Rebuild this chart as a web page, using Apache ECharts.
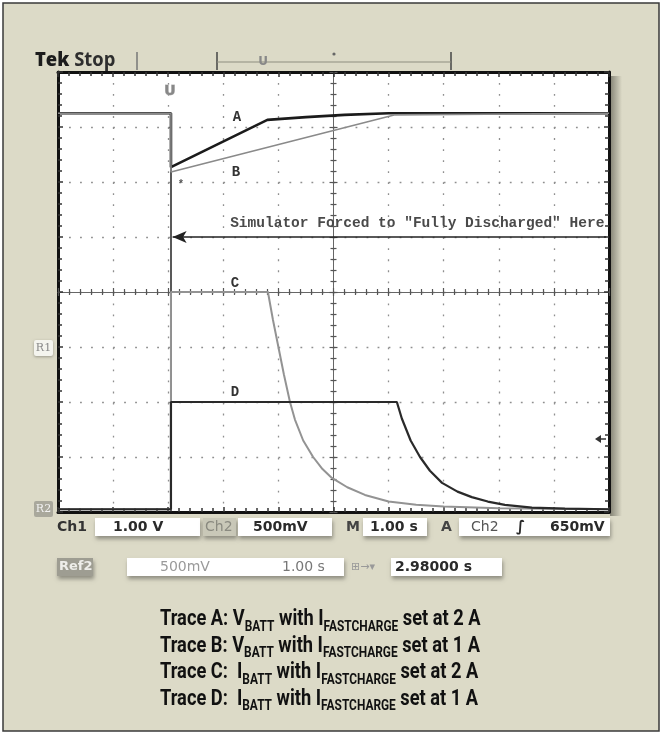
<!DOCTYPE html>
<html>
<head>
<meta charset="utf-8">
<script src="https://cdn.jsdelivr.net/npm/echarts@6/dist/echarts.min.js"></script>
<style>
  html, body { margin: 0; padding: 0; background: #fff; }
  #scope { width: 664px; height: 734px; }
</style>
</head>
<body>
<div id="scope"></div>
<script>
/* -------------------------------------------------------------------------- */
/*                 Scope capture: charger response after discharge            */
/* -------------------------------------------------------------------------- */

// time in s (M 1.00 s/div), level in screen divisions above the bottom graticule
const timeA = [0, 2.05, 2.05, 3.8, 4.5, 5.2, 6.0, 10];
const levelA = [7.25, 7.25, 6.27, 7.13, 7.18, 7.22, 7.25, 7.25];

const timeB = [0, 2.05, 2.05, 6.1, 10];
const levelB = [7.25, 7.25, 6.18, 7.22, 7.25];

const timeC = [0, 2.05, 2.05, 3.81, 3.9, 4.0, 4.1, 4.21, 4.3, 4.45, 4.63, 4.8, 4.97, 5.25, 5.57, 6.0, 6.5, 7.0, 8.0, 10];
const levelC = [0.05, 0.05, 4.0, 4.0, 3.5, 3.0, 2.5, 2.0, 1.68, 1.3, 1.0, 0.78, 0.62, 0.45, 0.31, 0.19, 0.13, 0.1, 0.07, 0.05];

const timeD = [0, 2.05, 2.05, 6.15, 6.24, 6.4, 6.57, 6.75, 6.97, 7.25, 7.51, 7.8, 8.11, 8.6, 9.2, 10];
const levelD = [0.05, 0.05, 2.0, 2.0, 1.7, 1.3, 1.0, 0.75, 0.53, 0.37, 0.27, 0.19, 0.13, 0.08, 0.06, 0.05];

const traceNames = ['A', 'B', 'C', 'D'];
const traceLabelAt = [[3.25, 7.18], [3.23, 6.18], [3.21, 4.16], [3.21, 2.18]];

const forcedTime = 2.05;
const forcedLevel = 5;
const forcedNote = 'Simulator Forced to "Fully Discharged" Here';
const forcedNoteAt = [6.52, 5.25];

const readoutRow1 = ['Ch1', '1.00 V', 'Ch2', '500mV', 'M', '1.00 s', 'A', 'Ch2', '\u222B', '650mV'];
const readoutRow2 = ['Ref2', '500mV', '1.00 s', '2.98000 s'];

const captionLines = [
  ['Trace A: V', 'BATT', ' with I', 'FASTCHARGE', ' set at 2 A'],
  ['Trace B: V', 'BATT', ' with I', 'FASTCHARGE', ' set at 1 A'],
  ['Trace C:  I', 'BATT', ' with I', 'FASTCHARGE', ' set at 2 A'],
  ['Trace D:  I', 'BATT', ' with I', 'FASTCHARGE', ' set at 1 A']
];

const zip = (t, v) => t.map((x, i) => [x, v[i]]);

const chart = echarts.init(document.getElementById('scope'));

const BEIGE = '#dcdac7';
const mono = '"Liberation Mono", "DejaVu Sans Mono", monospace';
const readoutFont = '"DejaVu Sans", sans-serif';

// border axis with inward minor ticks
const borderAxis = (position, max) => ({
  type: 'value',
  position,
  min: 0,
  max,
  interval: 1,
  axisLine: { show: true, onZero: false, lineStyle: { color: '#111', width: 3 } },
  axisTick: { show: true, inside: true, length: 5, lineStyle: { color: '#333', width: 1.5 } },
  minorTick: { show: true, splitNumber: 5, length: 4, lineStyle: { color: '#333', width: 1.5 } },
  axisLabel: { show: false },
  splitLine: { show: false }
});

// centre crosshair axis, ticks on one side
const centreAxis = (position, max, offset, inside, showLine) => ({
  type: 'value',
  position,
  offset,
  min: 0,
  max,
  interval: 1,
  axisLine: { show: showLine, onZero: false, lineStyle: { color: '#666', width: 1 } },
  axisTick: { show: true, inside, length: 4, lineStyle: { color: '#555', width: 1.2 } },
  minorTick: { show: true, splitNumber: 5, length: 3, lineStyle: { color: '#555', width: 1.2 } },
  axisLabel: { show: false },
  splitLine: { show: false }
});

const dotted = {
  show: true,
  lineStyle: { color: '#8f8f8f', width: 1.3, type: [1.8, 9.22] }
};

const xMain = borderAxis('bottom', 10);
xMain.splitLine = dotted;
const yMain = borderAxis('left', 8);
yMain.splitLine = dotted;

const traceStyle = [
  { color: '#1b1b1b', width: 2.6 },
  { color: '#8a8a8a', width: 1.6 },
  { color: '#939393', width: 2 },
  { color: '#2a2a2a', width: 2.2 }
];
const traceData = [zip(timeA, levelA), zip(timeB, levelB), zip(timeC, levelC), zip(timeD, levelD)];

const series = traceData.map((d, i) => ({
  name: 'Trace ' + traceNames[i],
  type: 'line',
  data: d,
  showSymbol: false,
  silent: true,
  z: 5,
  lineStyle: traceStyle[i],
  markPoint: {
    symbol: 'circle',
    symbolSize: 1,
    itemStyle: { color: 'transparent' },
    label: {
      show: true,
      formatter: traceNames[i],
      fontFamily: mono,
      fontWeight: 'bold',
      fontSize: 14,
      color: '#333'
    },
    data: [{ coord: traceLabelAt[i] }]
  }
}));

// vertical edge where the simulator was forced, plus the arrow
series[0].markLine = {
  silent: true,
  symbol: 'none',
  lineStyle: { color: '#222', width: 1.5, type: 'solid' },
  label: { show: false },
  data: [
    [{ coord: [forcedTime, 0] }, { coord: [forcedTime, 7.25] }],
    [
      { coord: [forcedTime + 0.03, forcedLevel], symbol: 'arrow', symbolSize: [9, 14], symbolRotate: 90 },
      { coord: [9.95, forcedLevel], symbol: 'none' }
    ]
  ]
};

// note above the arrow
series[1].markPoint.data.push({
  coord: forcedNoteAt,
  label: {
    show: true, formatter: forcedNote,
    fontFamily: mono, fontWeight: 'bold', fontSize: 14.5, color: '#4a4a4a'
  }
});

const shadowBox = (x, y, w, h, fill) => ({
  type: 'rect',
  shape: { x, y, width: w, height: h },
  style: { fill, shadowBlur: 4, shadowOffsetX: 1, shadowOffsetY: 3, shadowColor: 'rgba(0,0,0,0.35)' },
  z: 1
});

const label = (x, y, text, opts = {}) => ({
  type: 'text',
  x,
  y,
  z: 2,
  style: Object.assign({
    text,
    fontFamily: readoutFont,
    fontWeight: 'bold',
    fontSize: 14,
    fill: '#2a2a2a',
    verticalAlign: 'middle',
    align: 'left'
  }, opts)
});

const capFont = 'Roboto, sans-serif';
const captionRich = {
  m: { fontFamily: capFont, fontWeight: 'bold', fontSize: 21.5, lineHeight: 22, verticalAlign: 'top', fill: '#111' },
  s: { fontFamily: capFont, fontWeight: 'bold', fontSize: 14, lineHeight: 15, verticalAlign: 'top', padding: [11, 0, 0, 0], fill: '#111' }
};

const captionGraphics = captionLines.map((p, i) => ({
  type: 'text',
  x: 160,
  y: 609 + i * 26.5,
  scaleX: 0.85,
  z: 2,
  style: {
    text: `{m|${p[0]}}{s|${p[1]}}{m|${p[2]}}{s|${p[3]}}{m|${p[4]}}`,
    rich: captionRich,
    verticalAlign: 'top'
  }
}));

const graphics = [
  // outer panel
  { type: 'rect', shape: { x: 3, y: 3, width: 656, height: 728 }, style: { fill: BEIGE, stroke: '#3a3a3a', lineWidth: 1.5 }, z: -10 },
  // shadow right of the screen
  { type: 'rect', shape: { x: 610, y: 76, width: 12, height: 440 }, z: -5,
    style: { fill: new echarts.graphic.LinearGradient(0, 0, 1, 0, [
      { offset: 0, color: 'rgba(60,60,50,0.55)' }, { offset: 1, color: 'rgba(60,60,50,0)' }]) } },
  // header
  { type: 'text', x: 35, y: 60, scaleX: 0.92, z: 2, style: {
      text: '{t|Tek}{s| Stop}', verticalAlign: 'middle',
      rich: {
        t: { fontFamily: '"Open Sans", sans-serif', fontWeight: 800, fontSize: 20, fill: '#1c1c1c' },
        s: { fontFamily: '"Open Sans", sans-serif', fontWeight: 'bold', fontSize: 20, fill: '#2e2e2e' }
      } } },
  { type: 'line', shape: { x1: 137, y1: 52, x2: 137, y2: 70 }, style: { stroke: '#777', lineWidth: 1.5 } },
  { type: 'line', shape: { x1: 217, y1: 52, x2: 217, y2: 70 }, style: { stroke: '#444', lineWidth: 1.5 } },
  { type: 'line', shape: { x1: 451, y1: 52, x2: 451, y2: 70 }, style: { stroke: '#444', lineWidth: 1.5 } },
  { type: 'line', shape: { x1: 217, y1: 62, x2: 451, y2: 62 }, style: { stroke: '#8d8d80', lineWidth: 1.2 } },
  { type: 'text', x: 263, y: 62, z: 2, style: { text: 'U', fontFamily: readoutFont, fontWeight: 'bold', fontSize: 12, fill: '#888', align: 'center', verticalAlign: 'middle' } },
  { type: 'circle', shape: { cx: 334, cy: 54, r: 1.6 }, style: { fill: '#666' } },
  // trigger marker on screen
  { type: 'text', x: 170, y: 91, z: 5, style: { text: 'U', fontFamily: readoutFont, fontWeight: 'bold', fontSize: 14, fill: '#888', stroke: '#bbb', lineWidth: 1, align: 'center', verticalAlign: 'middle' } },
  { type: 'text', x: 181, y: 184, z: 5, style: { text: '*', fontFamily: mono, fontWeight: 'bold', fontSize: 10, fill: '#555', align: 'center', verticalAlign: 'middle' } },
  // reference markers on the left
  { type: 'rect', shape: { x: 34, y: 340, width: 19, height: 16, r: 2 }, style: { fill: '#f4f4ee', shadowBlur: 3, shadowColor: 'rgba(0,0,0,0.3)', shadowOffsetY: 1 }, z: 1 },
  label(43.5, 348, 'R1', { fontFamily: '"DejaVu Serif", serif', fontWeight: 'normal', fontSize: 11, fill: '#888', align: 'center' }),
  { type: 'rect', shape: { x: 34, y: 501, width: 19, height: 16, r: 2 }, style: { fill: '#a9a89c' }, z: 1 },
  label(43.5, 509, 'R2', { fontFamily: '"DejaVu Serif", serif', fontWeight: 'normal', fontSize: 11, fill: '#f2f2f2', align: 'center' }),
  // trigger level arrow on the right
  { type: 'polygon', shape: { points: [[595, 439], [601, 435], [601, 443]] }, style: { fill: '#333' }, z: 5 },
  { type: 'line', shape: { x1: 600, y1: 439, x2: 606, y2: 439 }, style: { stroke: '#333', lineWidth: 1.5 }, z: 5 },

  // readout row 1
  label(57, 527, readoutRow1[0], { fill: '#333' }),
  shadowBox(95, 518, 105, 18, '#fff'),
  label(113, 527, readoutRow1[1]),
  shadowBox(203, 518, 33, 18, '#c9c8b8'),
  label(205, 527, readoutRow1[2], { fill: '#8a8a80', fontWeight: 'normal' }),
  shadowBox(238, 518, 94, 18, '#fff'),
  label(253, 527, readoutRow1[3]),
  label(346, 527, readoutRow1[4], { fill: '#444' }),
  shadowBox(363, 518, 64, 18, '#fff'),
  label(370, 527, readoutRow1[5]),
  label(441, 527, readoutRow1[6], { fill: '#444' }),
  shadowBox(459, 518, 151, 18, '#fff'),
  label(471, 527, readoutRow1[7], { fill: '#555', fontWeight: 'normal' }),
  label(516, 527, readoutRow1[8], { fontSize: 15 }),
  label(550, 527, readoutRow1[9]),

  // readout row 2
  shadowBox(57, 558, 36, 18, '#9e9d92'),
  label(59, 567, readoutRow2[0], { fill: '#eeeeea', fontSize: 13 }),
  shadowBox(127, 558, 217, 18, '#fff'),
  label(160, 567, readoutRow2[1], { fill: '#9a9a9a', fontWeight: 'normal' }),
  label(282, 567, readoutRow2[2], { fill: '#777', fontWeight: 'normal' }),
  label(351, 567, '\u229E\u2192\u25BE', { fill: '#999', fontWeight: 'normal', fontSize: 11 }),
  shadowBox(391, 558, 111, 18, '#fff'),
  label(395, 567, readoutRow2[3])
].concat(captionGraphics);

chart.setOption({
  animation: false,
  backgroundColor: '#fff',
  grid: {
    left: 58, top: 72, right: 55, bottom: 222,
    show: true, backgroundColor: '#fff', borderWidth: 0, z: 0
  },
  xAxis: [
    xMain,
    borderAxis('top', 10),
    centreAxis('bottom', 10, -220, true, true),
    centreAxis('bottom', 10, -220, false, false)
  ],
  yAxis: [
    yMain,
    borderAxis('right', 8),
    centreAxis('left', 8, -275.5, true, true),
    centreAxis('left', 8, -275.5, false, false)
  ],
  series,
  graphic: graphics
});
</script>
</body>
</html>
